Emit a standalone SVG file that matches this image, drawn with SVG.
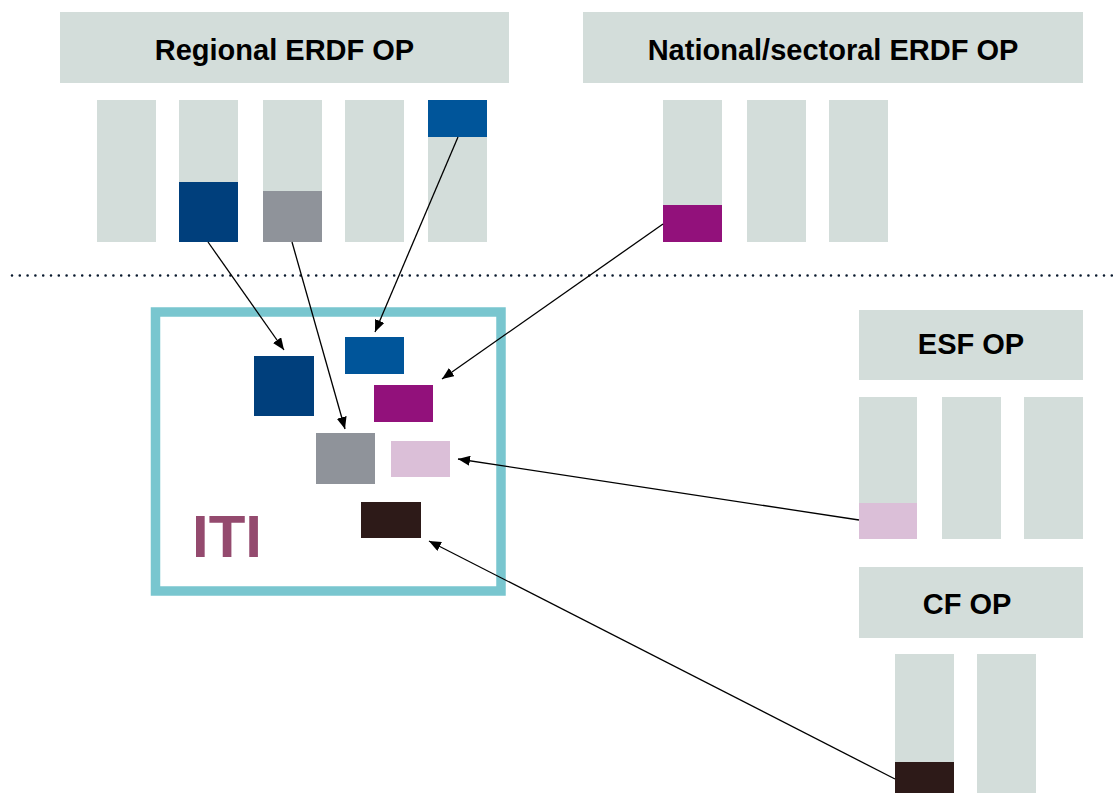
<svg xmlns="http://www.w3.org/2000/svg" width="1115" height="793" viewBox="0 0 1115 793">
<defs>
<style>
.bg{fill:#d3ddda}
.hdr{font-family:"Liberation Sans",Arial,sans-serif;font-weight:bold;font-size:29px;fill:#000;text-anchor:middle}
.c1{fill:#003f7c}
.c2{fill:#00559a}
.c3{fill:#8f939a}
.c4{fill:#92117b}
.c5{fill:#dbbfd8}
.c6{fill:#2d1a18}
.conn line{stroke:#000;stroke-width:1.3;fill:none;marker-end:url(#ah)}
</style>
<marker id="ah" viewBox="0 0 12 10" refX="12" refY="5" markerWidth="12" markerHeight="10" markerUnits="userSpaceOnUse" orient="auto">
<path d="M0,0 L12,5 L0,10 Z" fill="#000"/>
</marker>
</defs>
<rect width="1115" height="793" fill="#fff"/>

<line x1="12" y1="275.5" x2="1115" y2="275.5" stroke="#0a1a2e" stroke-width="2.6" stroke-linecap="round" stroke-dasharray="0 7.8"/>

<g id="regional-erdf-op">
<rect class="bg" x="60" y="12" width="449" height="71"/>
<text class="hdr" x="284.5" y="60">Regional ERDF OP</text>
<rect class="bg" x="97" y="100" width="59" height="142"/>
<rect class="bg" x="179" y="100" width="59" height="142"/>
<rect class="c1" x="179" y="182" width="59" height="60"/>
<rect class="bg" x="263" y="100" width="59" height="142"/>
<rect class="c3" x="263" y="191" width="59" height="51"/>
<rect class="bg" x="345" y="100" width="59" height="142"/>
<rect class="bg" x="428" y="100" width="59" height="142"/>
<rect class="c2" x="428" y="100" width="59" height="37"/>
</g>

<g id="national-sectoral-erdf-op">
<rect class="bg" x="583" y="12" width="500" height="71"/>
<text class="hdr" x="833" y="60">National/sectoral ERDF OP</text>
<rect class="bg" x="663" y="100" width="59" height="142"/>
<rect class="c4" x="663" y="205" width="59" height="37"/>
<rect class="bg" x="747" y="100" width="59" height="142"/>
<rect class="bg" x="829" y="100" width="59" height="142"/>
</g>

<g id="esf-op">
<rect class="bg" x="859" y="310" width="224" height="70"/>
<text class="hdr" x="971" y="354">ESF OP</text>
<rect class="bg" x="859" y="397" width="58" height="142"/>
<rect class="c5" x="859" y="503" width="58" height="36"/>
<rect class="bg" x="942" y="397" width="59" height="142"/>
<rect class="bg" x="1024" y="397" width="59" height="142"/>
</g>

<g id="cf-op">
<rect class="bg" x="859" y="567" width="224" height="71"/>
<text class="hdr" x="967" y="614">CF OP</text>
<rect class="bg" x="895" y="654" width="59" height="139"/>
<rect class="c6" x="895" y="762" width="59" height="31"/>
<rect class="bg" x="977" y="654" width="59" height="139"/>
</g>

<g id="iti">
<rect x="155.5" y="312" width="345.5" height="279" fill="none" stroke="#79c6cf" stroke-width="9.5"/>
<text x="192" y="557" font-family="Liberation Sans,Arial,sans-serif" font-weight="bold" font-size="60" fill="#944a6e">ITI</text>
<rect class="c1" x="254" y="356" width="60" height="60"/>
<rect class="c2" x="345" y="337" width="59" height="37"/>
<rect class="c4" x="374" y="385" width="59" height="37"/>
<rect class="c3" x="316" y="433" width="59" height="51"/>
<rect class="c5" x="391" y="441" width="59" height="36"/>
<rect class="c6" x="361" y="502" width="60" height="36"/>
</g>

<g id="connectors" class="conn">
<line x1="208" y1="242" x2="284" y2="350"/>
<line x1="292" y1="242" x2="345" y2="429"/>
<line x1="458" y1="137" x2="375" y2="332"/>
<line x1="663" y1="224" x2="442" y2="379"/>
<line x1="859" y1="520" x2="458" y2="459"/>
<line x1="895" y1="779" x2="429" y2="541"/>
</g>
</svg>
